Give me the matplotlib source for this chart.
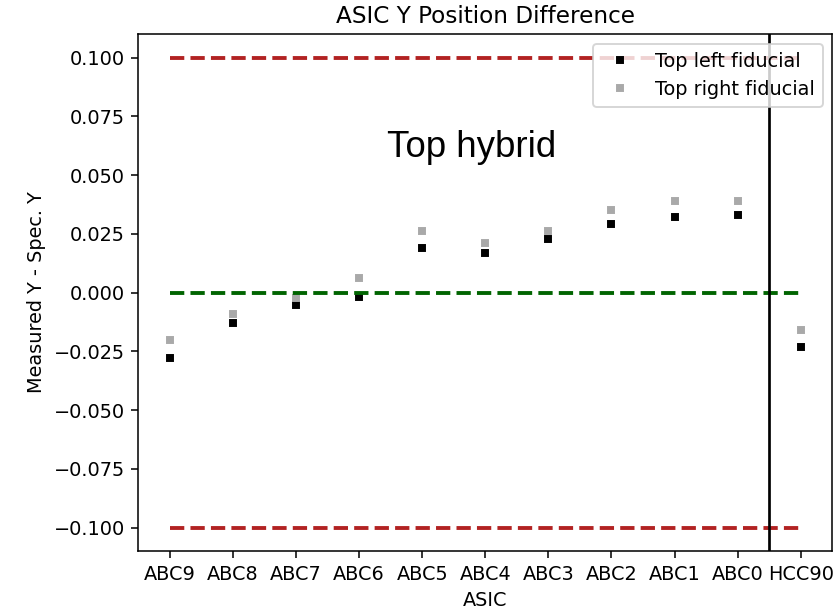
import numpy as np
import matplotlib.pyplot as plt

# ASIC names along the hybrid
asics = ['ABC9', 'ABC8', 'ABC7', 'ABC6', 'ABC5', 'ABC4', 'ABC3', 'ABC2', 'ABC1', 'ABC0', 'HCC90']
# Measured Y - spec Y for the two fiducials
top_left = [-0.0279, -0.0131, -0.0053, -0.0019, 0.0190, 0.0170, 0.0230, 0.0291, 0.0321, 0.0331, -0.0231]
top_right = [-0.0200, -0.0090, -0.0022, 0.0060, 0.0262, 0.0210, 0.0262, 0.0350, 0.0390, 0.0390, -0.0161]
# Tolerance limits
tol_hi, tol_lo = 0.1, -0.1

x = np.arange(len(asics))

dpi = 139
fig = plt.figure(figsize=(835 / dpi, 610 / dpi), dpi=dpi)
ax = fig.add_subplot(111)
fig.subplots_adjust(left=0.1656, right=0.9968, top=0.944, bottom=0.0967)

ax.plot(x, top_left, 's', color='black', ms=3.5, label='Top left fiducial')
ax.plot(x, top_right, 's', color='darkgray', ms=3.5, label='Top right fiducial')

ax.plot([x[0], x[-1]], [tol_hi, tol_hi], '--', color='firebrick', lw=2)
ax.plot([x[0], x[-1]], [tol_lo, tol_lo], '--', color='firebrick', lw=2)
ax.plot([x[0], x[-1]], [0, 0], '--', color='darkgreen', lw=2)
ax.axvline(9.5, color='black', lw=1.4)

ax.text(3.44, 0.0579, 'Top hybrid', fontsize=19, family='Liberation Sans')

ax.set_xticks(x)
ax.set_xticklabels(asics)
ax.set_yticks([-0.1, -0.075, -0.05, -0.025, 0.0, 0.025, 0.05, 0.075, 0.1])
ax.set_ylim(-0.11, 0.11)
ax.set_xlabel('ASIC')
ax.set_ylabel('Measured Y - Spec. Y')
ax.set_title('ASIC Y Position Difference')
ax.legend(loc='upper right')

fig.savefig('out.png', dpi=dpi)
